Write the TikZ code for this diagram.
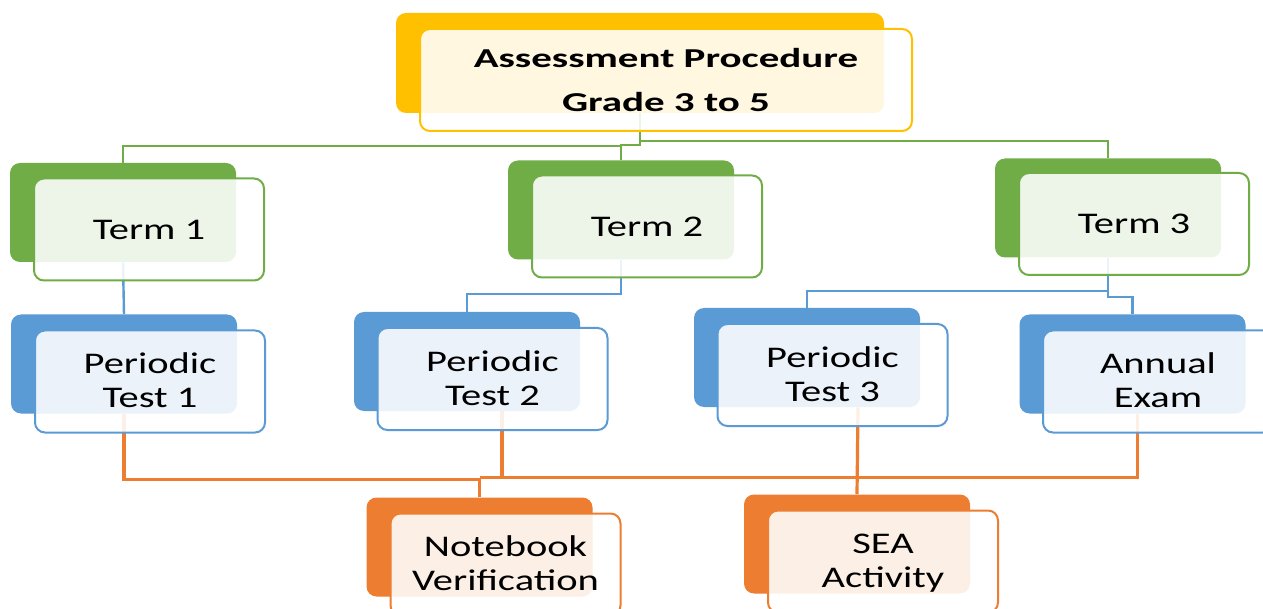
\documentclass[tikz,border=0pt]{standalone}
\usepackage{fontspec}
\setmainfont{Carlito}
\newfontfamily\boxfont{Carlito}[FakeStretch=1.35]
\newfontfamily\titlefont{Carlito}[FakeStretch=1.5]
\usetikzlibrary{calc}
\definecolor{cyel}{HTML}{FFC000}
\definecolor{cgrn}{HTML}{70AD47}
\definecolor{cblu}{HTML}{5B9BD5}
\definecolor{corg}{HTML}{ED7D31}
\newcommand{\twol}[2]{\rule{0pt}{19.85pt}#1\\\rule[-5.65pt]{0pt}{0pt}#2}
\tikzset{
  backbox/.style={fill=#1, rounded corners=7.5pt, minimum width=169.5pt, minimum height=74.25pt, inner sep=0pt},
  frontbox/.style={draw=#1, line width=1.5pt, fill=white, fill opacity=0.88, draw opacity=1, text opacity=1,
    rounded corners=7.5pt, minimum width=172.5pt, minimum height=76.5pt, inner sep=0pt, align=center,
    font=\boxfont\fontsize{22.5}{25.5}\selectfont, text=black},
  conn/.style={draw=#1, line width=1.8pt},
  oconn/.style={draw=corg, line width=2.4pt},
}
\begin{document}
\begin{tikzpicture}[x=0.75pt, y=-0.75pt]
\useasboundingbox (0,0) rectangle (1263,609);
\clip (0,0) rectangle (1263,609);
\fill[white] (0,0) rectangle (1263,609);

% back boxes
\node[backbox=cyel, minimum width=366pt, minimum height=75pt] (topB) at (640,63) {};
\node[backbox=cgrn] (t1B) at (123,212.5) {};
\node[backbox=cgrn] (t2B) at (621,210) {};
\node[backbox=cgrn] (t3B) at (1108,208) {};
\node[backbox=cblu] (p1B) at (124,364) {};
\node[backbox=cblu] (p2B) at (467,361.5) {};
\node[backbox=cblu] (p3B) at (807,357.5) {};
\node[backbox=cblu] (aeB) at (1132.5,364) {};
\node[backbox=corg] (nbB) at (479.5,547) {};
\node[backbox=corg] (seB) at (857,544) {};

% green connectors
\draw[conn=cgrn] (topB.south) -- ++(0,28) -| (t3B.north);
\draw[conn=cgrn] (topB.south) -- ++(0,32) -| (t2B.north);
\draw[conn=cgrn] (t1B.north) |- ($(t2B.north)+(0,-14)$);

% blue connectors
\draw[conn=cblu] (t1B.south) -- (p1B.north);
\draw[conn=cblu] (t2B.south) -- ++(0,34) -| (p2B.north);
\draw[conn=cblu] (t3B.south) -- ++(0,33) -| (p3B.north);
\draw[conn=cblu] (t3B.south) -- ++(0,39) -| (aeB.north);

% orange connectors
\draw[oconn] (p1B.south) -- ++(0,66) -| (nbB.north);
\draw[oconn] ($(p2B.south)+(35,0)$) -- ++(0,66);
\draw[oconn] ($(nbB.north)+(0,-20)$) -| ($(aeB.south)+(5,0)$);
\draw[oconn] (seB.north) -- ($(p3B.south)+(51,0)$);

% front boxes
\node[frontbox=cyel, minimum width=369pt, minimum height=76.5pt,
  font=\titlefont\bfseries\fontsize{20.5}{33}\selectfont] (top) at (666,80) {Assessment Procedure\\Grade 3 to 5};
\node[frontbox=cgrn] (t1) at (149,229.5) {Term 1};
\node[frontbox=cgrn] (t2) at (647,226.5) {Term 2};
\node[frontbox=cgrn] (t3) at (1134,224) {Term 3};
\node[frontbox=cblu] (p1) at (150,381.5) {\twol{Periodic}{Test 1}};
\node[frontbox=cblu] (p2) at (492.5,379) {\twol{Periodic}{Test 2}};
\node[frontbox=cblu] (p3) at (832.5,375) {\twol{Periodic}{Test 3}};
\node[frontbox=cblu] (ae) at (1158,381.5) {\twol{Annual}{Exam}};
\node[frontbox=corg] (nb) at (505.5,564.5) {\twol{Notebook}{Verification}};
\node[frontbox=corg] (se) at (883,561.5) {\twol{SEA}{Activity}};
\end{tikzpicture}
\end{document}
